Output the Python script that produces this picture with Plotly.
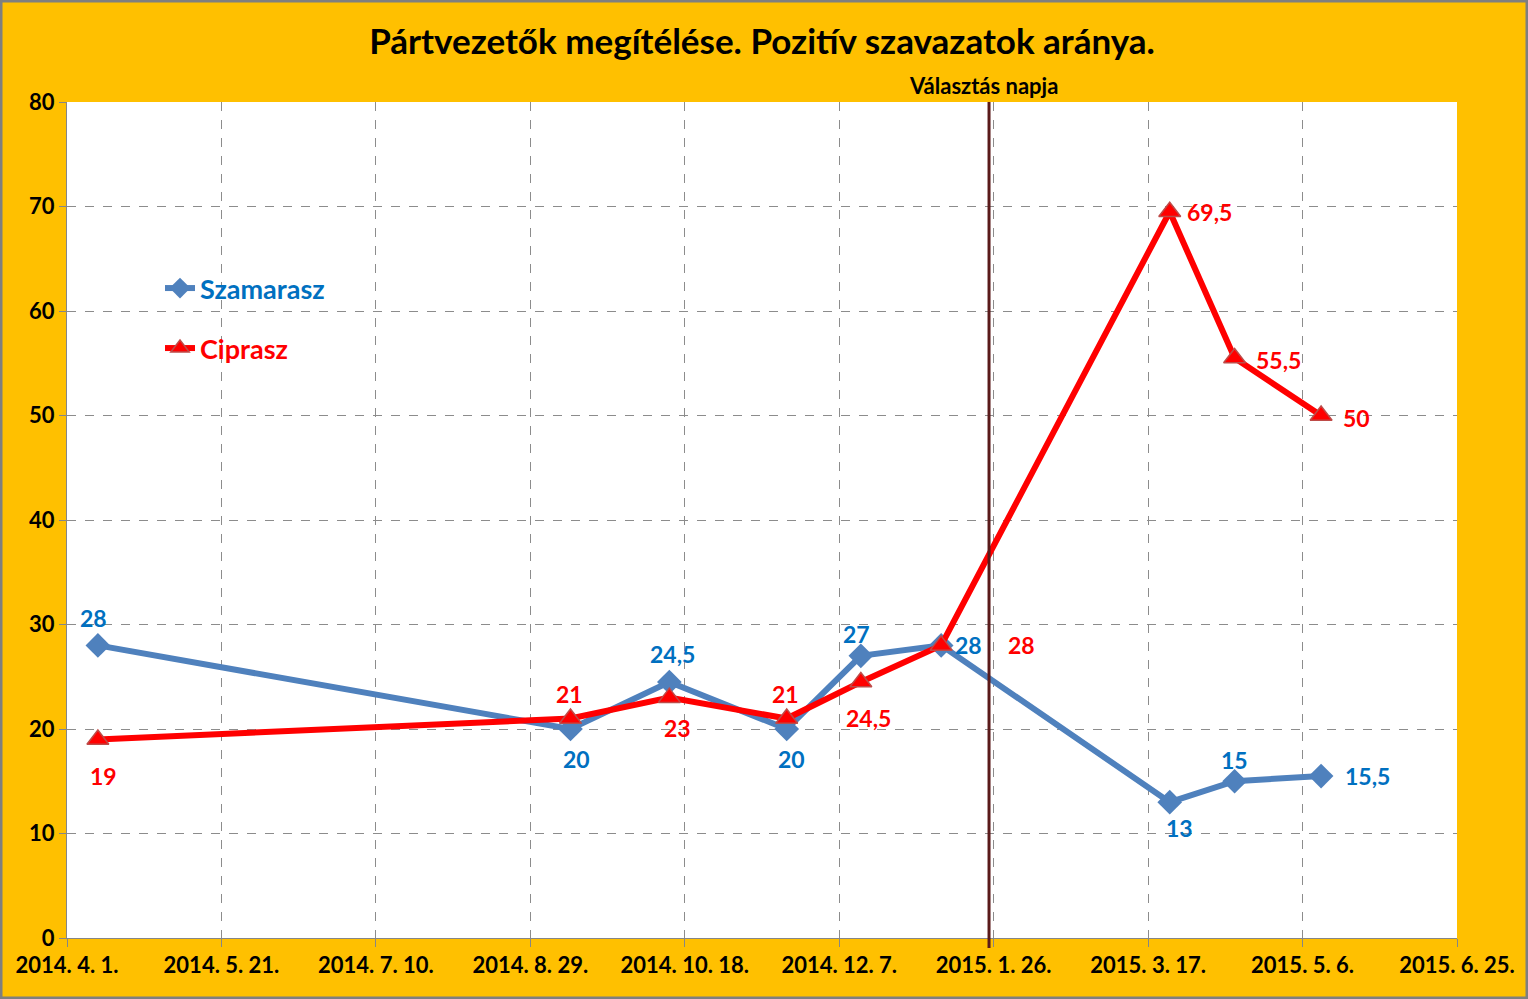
import plotly.graph_objects as go

dates = ["2014-04-11", "2014-09-11", "2014-10-13", "2014-11-20", "2014-12-14",
         "2015-01-09", "2015-03-24", "2015-04-14", "2015-05-12"]
szamarasz = [28, 20, 24.5, 20, 27, 28, 13, 15, 15.5]
ciprasz = [19, 21, 23, 21, 24.5, 28, 69.5, 55.5, 50]
szam_labels = ["28", "20", "24,5", "20", "27", "28", "13", "15", "15,5"]
cip_labels = ["19", "21", "23", "21", "24,5", "28", "69,5", "55,5", "50"]
election_day = "2015-01-24 12:00"
x_ticks = ["2014-04-01", "2014-05-21", "2014-07-10", "2014-08-29", "2014-10-18",
           "2014-12-07", "2015-01-26", "2015-03-17", "2015-05-06", "2015-06-25"]
x_tick_text = ["2014. 4. 1.", "2014. 5. 21.", "2014. 7. 10.", "2014. 8. 29.", "2014. 10. 18.",
               "2014. 12. 7.", "2015. 1. 26.", "2015. 3. 17.", "2015. 5. 6.", "2015. 6. 25."]

# label offsets (pixels), styling only
szam_off = [(-4, 27), (6, -30), (3, 28), (5, -30), (-4, 22), (27, 0), (10, -26), (0, 21), (46, 0)]
cip_off = [(6, -37), (-1, 25), (8, -30), (-1, 25), (8, -36), (80, 0), (40, 0), (44, -2), (35, -2)]

FONT = "Lato"
BLUE = "#4F81BD"
BLUE_TXT = "#0070C0"
RED = "#FF0000"

fig = go.Figure()
fig.add_trace(go.Scatter(
    x=dates, y=szamarasz, name="Szamarasz", mode="lines+markers",
    line=dict(color=BLUE, width=6),
    marker=dict(symbol="diamond", size=19, color=BLUE, line=dict(width=0)),
    legend="legend"))
fig.add_trace(go.Scatter(
    x=dates, y=ciprasz, name="Ciprasz", mode="lines+markers",
    line=dict(color=RED, width=6),
    marker=dict(symbol="triangle-up", size=19, color=RED, line=dict(width=1.5, color="#BE4B48")),
    legend="legend2"))

annotations = []
for d, v, t, (dx, dy) in zip(dates, szamarasz, szam_labels, szam_off):
    annotations.append(dict(x=d, y=v, text=t, showarrow=False, xshift=dx, yshift=dy,
                            font=dict(family=FONT, size=23, color=BLUE_TXT, weight="bold")))
for d, v, t, (dx, dy) in zip(dates, ciprasz, cip_labels, cip_off):
    annotations.append(dict(x=d, y=v, text=t, showarrow=False, xshift=dx, yshift=dy,
                            font=dict(family=FONT, size=23, color=RED, weight="bold")))
annotations.append(dict(x=election_day, y=1, yref="paper", text="Választás napja", showarrow=False,
                        yanchor="bottom", yshift=1, xshift=-6,
                        font=dict(family=FONT, size=22, color="black", weight="bold")))

W, H = 1528, 999
ml, mr, mt, mb = 67, 71, 102, 61
pw, ph = W - ml - mr, H - mt - mb

shapes = [
    dict(type="line", xref="x", yref="paper", x0=election_day, x1=election_day,
         y0=-10 / ph, y1=1, line=dict(color="#5A1A1A", width=3)),
    dict(type="rect", xref="paper", yref="paper",
         x0=-ml / pw + 1 / pw, x1=1 + (mr - 1) / pw, y0=-mb / ph + 1 / ph, y1=1 + (mt - 1) / ph,
         line=dict(color="#7F7F7F", width=3), layer="above"),
]

fig.update_layout(
    width=W, height=H,
    margin=dict(l=ml, r=mr, t=mt, b=mb),
    paper_bgcolor="#FFC000", plot_bgcolor="white",
    title=dict(text="Pártvezetők megítélése. Pozitív szavazatok aránya.",
               x=0.5, xref="paper", y=1 - 42 / H, yanchor="middle",
               font=dict(family=FONT, size=35, color="black", weight="bold")),
    font=dict(family=FONT, color="black"),
    showlegend=True,
    legend=dict(x=(160 - ml) / pw, y=1 - (264 - mt) / ph, xanchor="left", yanchor="top",
                bgcolor="rgba(0,0,0,0)",
                font=dict(family=FONT, size=27, color=BLUE_TXT, weight="bold")),
    legend2=dict(x=(160 - ml) / pw, y=1 - (324 - mt) / ph, xanchor="left", yanchor="top",
                 bgcolor="rgba(0,0,0,0)",
                 font=dict(family=FONT, size=27, color=RED, weight="bold")),
    annotations=annotations,
    shapes=shapes,
    xaxis=dict(type="date", range=["2014-04-01", "2015-06-25"],
               tickmode="array", tickvals=x_ticks, ticktext=x_tick_text,
               tickfont=dict(family=FONT, size=22, color="black", weight="bold"),
               ticks="outside", ticklen=8, tickcolor="#868686",
               showgrid=True, gridcolor="#8C8C8C", griddash="dash", gridwidth=1,
               showline=True, linecolor="#868686", linewidth=1, zeroline=False),
    yaxis=dict(range=[0, 80], dtick=10,
               tickfont=dict(family=FONT, size=22, color="black", weight="bold"),
               ticks="outside", ticklen=7, tickcolor="#868686",
               showgrid=True, gridcolor="#8C8C8C", griddash="dash", gridwidth=1,
               showline=True, linecolor="#868686", linewidth=1, zeroline=False),
)

fig.write_html("out.html", post_script="document.body.style.margin='0px';",
               config={"displayModeBar": False})
